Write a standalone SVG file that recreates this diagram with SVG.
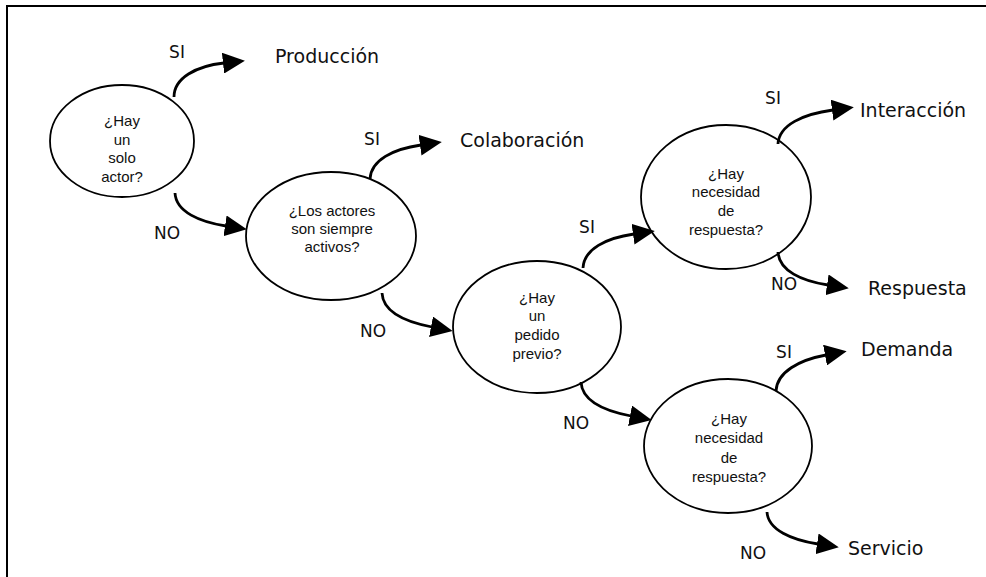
<svg xmlns="http://www.w3.org/2000/svg" width="986" height="577" viewBox="0 0 986 577">
<style>
.frame{fill:none;stroke:#000;stroke-width:2}
.node ellipse{fill:#fff;stroke:#000;stroke-width:1.8}
.node text{font-family:"Liberation Sans",Arial,sans-serif;font-size:15px;fill:#111;text-anchor:middle}
.conn path{fill:none;stroke:#000;stroke-width:2.8}
.lbl{font-family:"DejaVu Sans",Verdana,sans-serif;font-size:17px;fill:#111;text-anchor:middle}
.out{font-family:"DejaVu Sans",Verdana,sans-serif;font-size:19px;fill:#111}
</style>
<defs>
<marker id="ah" markerUnits="userSpaceOnUse" viewBox="0 0 22 21" markerWidth="22" markerHeight="21" refX="1" refY="10.5" orient="auto">
<path d="M0,0 L22,10.5 L0,21 Z" fill="#000"/>
</marker>
</defs>
<rect class="frame" x="7" y="6" width="990" height="590"/>
<g id="q1" class="node">
<ellipse cx="122" cy="141" rx="72" ry="56"/>
<text x="122" y="126">¿Hay</text>
<text x="122" y="145">un</text>
<text x="122" y="163">solo</text>
<text x="122" y="182">actor?</text>
</g>
<g id="q2" class="node">
<ellipse cx="331" cy="236" rx="85" ry="64"/>
<text x="332" y="216">¿Los actores</text>
<text x="332" y="234">son siempre</text>
<text x="332" y="252">activos?</text>
</g>
<g id="q3" class="node">
<ellipse cx="537" cy="327" rx="84" ry="66"/>
<text x="537" y="303">¿Hay</text>
<text x="537" y="321">un</text>
<text x="537" y="340">pedido</text>
<text x="537" y="359">previo?</text>
</g>
<g id="q4" class="node">
<ellipse cx="726" cy="197" rx="85" ry="72"/>
<text x="726" y="179">¿Hay</text>
<text x="726" y="197">necesidad</text>
<text x="726" y="216">de</text>
<text x="726" y="235">respuesta?</text>
</g>
<g id="q5" class="node">
<ellipse cx="728" cy="446" rx="84" ry="67"/>
<text x="729" y="424">¿Hay</text>
<text x="729" y="443">necesidad</text>
<text x="729" y="463">de</text>
<text x="729" y="482">respuesta?</text>
</g>
<g id="produccion"><text class="out" x="275" y="63">Producción</text></g>
<g id="colaboracion"><text class="out" x="460" y="147">Colaboración</text></g>
<g id="interaccion"><text class="out" x="860" y="117">Interacción</text></g>
<g id="respuesta"><text class="out" x="868" y="295">Respuesta</text></g>
<g id="demanda"><text class="out" x="861" y="356">Demanda</text></g>
<g id="servicio"><text class="out" x="848" y="555">Servicio</text></g>
<g id="connectors" class="conn">
<path d="M174,97 C174,78 196,66 224,63" marker-end="url(#ah)"/>
<path d="M175,193 C176,212 200,222 226,226" marker-end="url(#ah)"/>
<path d="M370,179 C371,160 393,149 421,145" marker-end="url(#ah)"/>
<path d="M382,293 C383,312 406,322 432,327" marker-end="url(#ah)"/>
<path d="M583,268 C584,249 606,238 634,234" marker-end="url(#ah)"/>
<path d="M581,382 C582,401 605,411 631,416" marker-end="url(#ah)"/>
<path d="M778,144 C779,125 803,114 833,110" marker-end="url(#ah)"/>
<path d="M778,252 C779,271 802,281 828,285" marker-end="url(#ah)"/>
<path d="M776,391 C777,372 799,360 826,355" marker-end="url(#ah)"/>
<path d="M767,512 C768,530 792,540 818,544" marker-end="url(#ah)"/>
<text class="lbl" x="177" y="58">SI</text>
<text class="lbl" x="167" y="239">NO</text>
<text class="lbl" x="372" y="145">SI</text>
<text class="lbl" x="373" y="337">NO</text>
<text class="lbl" x="587" y="233">SI</text>
<text class="lbl" x="576" y="429">NO</text>
<text class="lbl" x="773" y="104">SI</text>
<text class="lbl" x="784" y="290">NO</text>
<text class="lbl" x="784" y="358">SI</text>
<text class="lbl" x="753" y="559">NO</text>
</g>
</svg>
